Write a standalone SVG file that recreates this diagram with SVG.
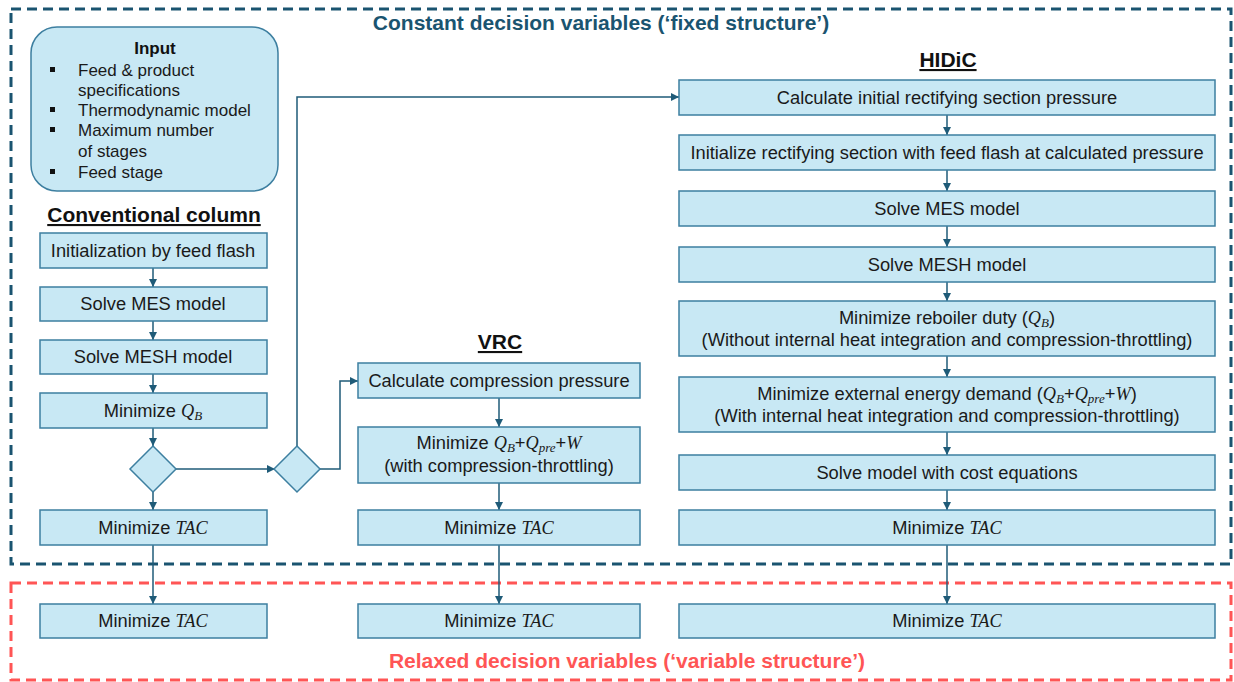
<svg xmlns="http://www.w3.org/2000/svg" width="1234" height="682" viewBox="0 0 1234 682">
<defs>
<marker id="ah" viewBox="0 0 10 10" refX="10" refY="5" markerWidth="8" markerHeight="8" markerUnits="userSpaceOnUse" orient="auto"><path d="M0,0 L10,5 L0,10 z" fill="#1f5b78"/></marker>
<style>
.box{fill:#c8e8f4;stroke:#3d7fa0;stroke-width:1.5}
.t{font-family:"Liberation Sans",Arial,sans-serif;font-size:18.3px;fill:#1a1a1a;text-anchor:middle}
.li{font-family:"Liberation Sans",Arial,sans-serif;font-size:17px;fill:#1a1a1a}
.m{font-family:"Liberation Serif","Times New Roman",serif;font-style:italic}
.s{font-size:13px}
.h{font-family:"Liberation Sans",Arial,sans-serif;font-size:21px;font-weight:bold;fill:#111;text-anchor:middle;text-decoration:underline}
.c{fill:none;stroke:#1f5b78;stroke-width:1.5}
</style>
</defs>
<rect width="1234" height="682" fill="#fff"/>
<g id="regions">
<rect x="11" y="9" width="1220" height="555" fill="none" stroke="#1a5470" stroke-width="3" stroke-dasharray="10,6"/>
<text x="601" y="30" font-family="Liberation Sans,Arial,sans-serif" font-size="21" font-weight="bold" fill="#1a5470" text-anchor="middle">Constant decision variables (‘fixed structure’)</text>
<rect x="11" y="583" width="1220" height="97" fill="none" stroke="#ff5555" stroke-width="3" stroke-dasharray="10,6"/>
<text x="627" y="668" font-family="Liberation Sans,Arial,sans-serif" font-size="21" font-weight="bold" fill="#ff5555" text-anchor="middle">Relaxed decision variables (‘variable structure’)</text>
</g>
<g id="input">
<rect x="31" y="27" width="247" height="164" rx="26" class="box"/>
<text x="155" y="54" font-family="Liberation Sans,Arial,sans-serif" font-size="17" font-weight="bold" fill="#111" text-anchor="middle">Input</text>
<rect x="50" y="67" width="5" height="5" fill="#111"/>
<text x="78" y="76" class="li">Feed &amp; product</text>
<text x="78" y="96" class="li">specifications</text>
<rect x="50" y="107" width="5" height="5" fill="#111"/>
<text x="78" y="116" class="li">Thermodynamic model</text>
<rect x="50" y="127" width="5" height="5" fill="#111"/>
<text x="78" y="136" class="li">Maximum number</text>
<text x="78" y="157" class="li">of stages</text>
<rect x="50" y="169" width="5" height="5" fill="#111"/>
<text x="78" y="178" class="li">Feed stage</text>
</g>
<g id="headers">
<text x="154" y="222" class="h">Conventional column</text>
<text x="500" y="349" class="h">VRC</text>
<text x="948" y="67" class="h">HIDiC</text>
</g>
<g id="connectors">
<path class="c" d="M153,268 V287" marker-end="url(#ah)"/>
<path class="c" d="M153,321 V340" marker-end="url(#ah)"/>
<path class="c" d="M153,374 V393" marker-end="url(#ah)"/>
<path class="c" d="M153,428 V446" marker-end="url(#ah)"/>
<path class="c" d="M153,492 V510" marker-end="url(#ah)"/>
<path class="c" d="M153,545 V604" marker-end="url(#ah)"/>
<path class="c" d="M176,469 H275" marker-end="url(#ah)"/>
<path class="c" d="M297,446 V97 H679" marker-end="url(#ah)"/>
<path class="c" d="M320,469 H340 V381 H358" marker-end="url(#ah)"/>
<path class="c" d="M499,398 V427" marker-end="url(#ah)"/>
<path class="c" d="M499,483 V510" marker-end="url(#ah)"/>
<path class="c" d="M499,545 V604" marker-end="url(#ah)"/>
<path class="c" d="M947,115 V135" marker-end="url(#ah)"/>
<path class="c" d="M947,170 V191" marker-end="url(#ah)"/>
<path class="c" d="M947,226 V247" marker-end="url(#ah)"/>
<path class="c" d="M947,282 V301" marker-end="url(#ah)"/>
<path class="c" d="M947,356 V377" marker-end="url(#ah)"/>
<path class="c" d="M947,432 V455" marker-end="url(#ah)"/>
<path class="c" d="M947,490 V510" marker-end="url(#ah)"/>
<path class="c" d="M947,545 V604" marker-end="url(#ah)"/>
</g>
<g id="conv-init"><rect x="40" y="233" width="227" height="35" class="box"/><text x="153" y="257" class="t">Initialization by feed flash</text></g>
<g id="conv-mes"><rect x="40" y="287" width="227" height="34" class="box"/><text x="153" y="310" class="t">Solve MES model</text></g>
<g id="conv-mesh"><rect x="40" y="340" width="227" height="34" class="box"/><text x="153" y="363" class="t">Solve MESH model</text></g>
<g id="conv-qb"><rect x="40" y="393" width="227" height="35" class="box"/><text x="153" y="417" class="t">Minimize <tspan class="m">Q</tspan><tspan class="m s" dy="3">B</tspan></text></g>
<g id="diamond1"><path d="M153,446 L176,469 L153,492 L130,469 Z" class="box"/></g>
<g id="diamond2"><path d="M297,446 L320,469 L297,492 L274,469 Z" class="box"/></g>
<g id="conv-tac"><rect x="40" y="510" width="227" height="35" class="box"/><text x="153" y="534" class="t">Minimize <tspan class="m">TAC</tspan></text></g>
<g id="conv-tac2"><rect x="40" y="604" width="227" height="34" class="box"/><text x="153" y="627" class="t">Minimize <tspan class="m">TAC</tspan></text></g>
<g id="vrc-calc"><rect x="358" y="363" width="282" height="35" class="box"/><text x="499" y="387" class="t">Calculate compression pressure</text></g>
<g id="vrc-min"><rect x="358" y="427" width="282" height="56" class="box"/><text x="499" y="449" class="t">Minimize <tspan class="m">Q</tspan><tspan class="m s" dy="3">B</tspan><tspan dy="-3">+</tspan><tspan class="m">Q</tspan><tspan class="m s" dy="3">pre</tspan><tspan dy="-3">+</tspan><tspan class="m">W</tspan></text><text x="499" y="472" class="t">(with compression-throttling)</text></g>
<g id="vrc-tac"><rect x="358" y="510" width="282" height="35" class="box"/><text x="499" y="534" class="t">Minimize <tspan class="m">TAC</tspan></text></g>
<g id="vrc-tac2"><rect x="358" y="604" width="282" height="34" class="box"/><text x="499" y="627" class="t">Minimize <tspan class="m">TAC</tspan></text></g>
<g id="h-calc"><rect x="679" y="80" width="536" height="35" class="box"/><text x="947" y="104" class="t">Calculate initial rectifying section pressure</text></g>
<g id="h-init"><rect x="679" y="135" width="536" height="35" class="box"/><text x="947" y="159" class="t">Initialize rectifying section with feed flash at calculated pressure</text></g>
<g id="h-mes"><rect x="679" y="191" width="536" height="35" class="box"/><text x="947" y="215" class="t">Solve MES model</text></g>
<g id="h-mesh"><rect x="679" y="247" width="536" height="35" class="box"/><text x="947" y="271" class="t">Solve MESH model</text></g>
<g id="h-qb"><rect x="679" y="301" width="536" height="55" class="box"/><text x="947" y="324" class="t">Minimize reboiler duty (<tspan class="m">Q</tspan><tspan class="m s" dy="3">B</tspan><tspan dy="-3">)</tspan></text><text x="947" y="346" class="t">(Without internal heat integration and compression-throttling)</text></g>
<g id="h-ext"><rect x="679" y="377" width="536" height="55" class="box"/><text x="947" y="400" class="t">Minimize external energy demand (<tspan class="m">Q</tspan><tspan class="m s" dy="3">B</tspan><tspan dy="-3">+</tspan><tspan class="m">Q</tspan><tspan class="m s" dy="3">pre</tspan><tspan dy="-3">+</tspan><tspan class="m">W</tspan>)</text><text x="947" y="422" class="t">(With internal heat integration and compression-throttling)</text></g>
<g id="h-cost"><rect x="679" y="455" width="536" height="35" class="box"/><text x="947" y="479" class="t">Solve model with cost equations</text></g>
<g id="h-tac"><rect x="679" y="510" width="536" height="35" class="box"/><text x="947" y="534" class="t">Minimize <tspan class="m">TAC</tspan></text></g>
<g id="h-tac2"><rect x="679" y="604" width="536" height="34" class="box"/><text x="947" y="627" class="t">Minimize <tspan class="m">TAC</tspan></text></g>
</svg>
